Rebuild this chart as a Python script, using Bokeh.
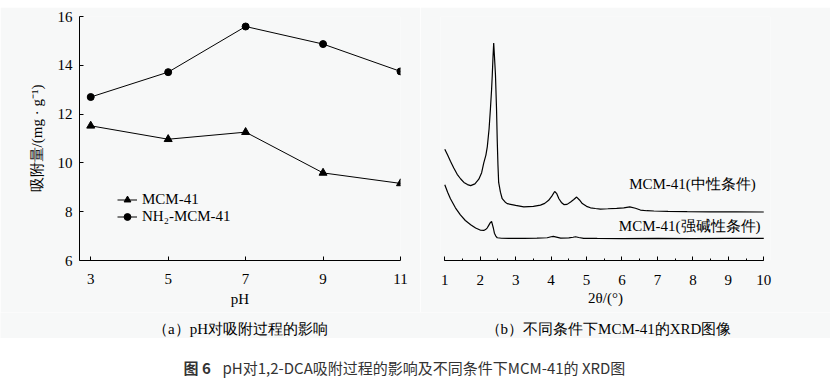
from bokeh.plotting import figure
from bokeh.models import (Range1d, FixedTicker, SingleIntervalTicker, Label, Legend)
from bokeh.layouts import column, row
from bokeh.embed import file_html
from bokeh.resources import INLINE

# ---------------- data ----------------
ph = [3, 5, 7, 9, 11]
mcm41 = [11.52, 10.97, 11.26, 9.59, 9.16]
nh2_mcm41 = [12.70, 13.72, 15.59, 14.87, 13.75]
ph_ticks = [3, 5, 7, 9, 11]
ads_ticks = [6, 8, 10, 12, 14, 16]

neutral_2theta = [1.00, 1.08, 1.16, 1.25, 1.35, 1.45, 1.54, 1.64, 1.73, 1.85, 1.96, 2.04, 2.10, 2.16,
                  2.20, 2.25, 2.29, 2.32, 2.34, 2.36, 2.38, 2.40, 2.43, 2.46, 2.48, 2.50, 2.52, 2.57,
                  2.62, 2.70, 2.76, 3.00, 3.23, 3.50, 3.70, 3.82, 3.93, 4.02, 4.10, 4.16, 4.22, 4.29,
                  4.36, 4.45, 4.55, 4.64, 4.72, 4.80, 4.88, 5.00, 5.11, 5.25, 5.39, 5.60, 5.85, 6.05,
                  6.22, 6.38, 6.52, 6.70, 6.90, 7.30, 7.84, 8.50, 9.20, 10.0]
neutral_int = [114, 108, 101.7, 95, 88.3, 83.5, 80, 77.8, 76.7, 78.5, 83.3, 90, 100, 108,
               116.7, 135, 156.7, 175, 190, 208, 222.7, 210, 190, 155, 123, 98, 80, 70,
               63.3, 60, 58.3, 56.5, 55, 55.5, 56.7, 58.5, 61.7, 66, 70.7, 68.5, 63.3, 59.5,
               57.3, 57.5, 60, 62.5, 65, 62, 58.3, 55.5, 54, 53.3, 52.7, 53, 53.5, 54,
               55, 53.5, 51.7, 51, 50.7, 50.3, 50, 49.9, 49.8, 49.7]

alk_2theta = [1.00, 1.08, 1.16, 1.30, 1.44, 1.58, 1.73, 1.87, 2.01, 2.10, 2.15, 2.20, 2.24, 2.28,
              2.32, 2.35, 2.37, 2.40, 2.44, 2.48, 2.60, 2.80, 3.23, 3.60, 3.89, 4.00, 4.06, 4.15,
              4.27, 4.50, 4.62, 4.69, 4.78, 4.92, 5.30, 6.00, 7.00, 8.00, 9.00, 10.0]
alk_int = [77.7, 70, 63.3, 54, 46.7, 41, 36.7, 33.3, 31, 30.8, 31.7, 33.5, 36, 38.5,
           40, 36, 33.3, 28, 25, 23.3, 22.8, 22.6, 22.7, 23, 23.3, 24.3, 24.7, 24,
           23, 23.2, 23.8, 24.3, 23.6, 22.7, 22.6, 22.5, 22.6, 22.5, 22.6, 22.7]

BG = "#f7f8f8"
RULE = "#e1e7e7"
SERIF = "Liberation Serif"
SANS = "Noto Sans CJK SC"


def blank(w, h, color):
    f = figure(width=w, height=h, output_backend="svg", toolbar_location=None,
               x_range=Range1d(0, 1), y_range=Range1d(0, 1))
    f.min_border = 0
    f.axis.visible = False
    f.grid.visible = False
    f.outline_line_color = None
    f.background_fill_color = color
    f.border_fill_color = color
    return f


# ---------------- panel (a) ----------------
p1 = figure(width=420, height=305, output_backend="svg", toolbar_location=None,
            x_range=Range1d(2.71, 11.0), y_range=Range1d(6, 16))
p1.min_border_left = 79
p1.min_border_right = 20
p1.min_border_top = 9
p1.min_border_bottom = 50
p1.background_fill_color = BG
p1.border_fill_color = BG
p1.outline_line_color = None
p1.grid.visible = False

for ax in (p1.xaxis[0], p1.yaxis[0]):
    ax.axis_line_color = "black"
    ax.major_tick_line_color = "black"
    ax.major_tick_in = 4
    ax.major_tick_out = 0
    ax.minor_tick_line_color = None
    ax.major_label_text_font = SERIF
    ax.major_label_text_font_size = "15px"
    ax.major_label_text_color = "black"
    ax.axis_label_text_font = SERIF
    ax.axis_label_text_font_size = "15px"
    ax.axis_label_text_font_style = "normal"
    ax.axis_label_text_color = "black"

p1.xaxis.ticker = FixedTicker(ticks=ph_ticks)
p1.yaxis.ticker = FixedTicker(ticks=ads_ticks)
p1.xaxis.axis_label = "pH"
p1.xaxis.major_label_standoff = 13
p1.xaxis.axis_label_standoff = 4
p1.yaxis.axis_label = "吸附量/(mg · g⁻¹)"
p1.yaxis.major_label_standoff = 7
p1.yaxis.axis_label_standoff = 10

r1l = p1.line(ph, mcm41, line_color="black", line_width=1)
r1s = p1.scatter(ph, mcm41, marker="triangle", size=8, fill_color="black", line_color="black")
r2l = p1.line(ph, nh2_mcm41, line_color="black", line_width=1)
r2s = p1.scatter(ph, nh2_mcm41, marker="circle", size=7, fill_color="black", line_color="black")

legend = Legend(items=[("MCM-41", [r1l, r1s]), ("NH₂-MCM-41", [r2l, r2s])],
                location=(38, 35))
legend.background_fill_alpha = 0
legend.border_line_color = None
legend.padding = 0
legend.margin = 0
legend.spacing = 0
legend.glyph_width = 20
legend.glyph_height = 17
legend.label_height = 17
legend.label_standoff = 5
legend.label_text_font = SERIF
legend.label_text_font_size = "15px"
legend.label_text_color = "black"
p1.add_layout(legend, "center")

# ---------------- panel (b) ----------------
p2 = figure(width=410, height=305, output_backend="svg", toolbar_location=None,
            x_range=Range1d(0.879, 10.19), y_range=Range1d(0, 250))
p2.min_border_left = 20
p2.min_border_right = 60
p2.min_border_top = 3
p2.min_border_bottom = 52
p2.background_fill_color = BG
p2.border_fill_color = BG
p2.outline_line_color = None
p2.grid.visible = False
p2.yaxis.visible = False

ax2 = p2.xaxis[0]
ax2.bounds = (1, 10)
ax2.ticker = SingleIntervalTicker(interval=1, num_minor_ticks=2)
ax2.axis_line_color = "black"
ax2.major_tick_line_color = "black"
ax2.major_tick_in = 4
ax2.major_tick_out = 0
ax2.minor_tick_line_color = "black"
ax2.minor_tick_in = 2
ax2.minor_tick_out = 0
ax2.major_label_text_font = SERIF
ax2.major_label_text_font_size = "15px"
ax2.major_label_text_color = "black"
ax2.major_label_standoff = 14
ax2.axis_label = "2θ/(°)"
ax2.axis_label_text_font = SERIF
ax2.axis_label_text_font_size = "15px"
ax2.axis_label_text_font_style = "normal"
ax2.axis_label_text_color = "black"
ax2.axis_label_standoff = 2

p2.line(neutral_2theta, neutral_int, line_color="black", line_width=1.2)
p2.line(alk_2theta, alk_int, line_color="black", line_width=1.2)

p2.add_layout(Label(x=7.99, y=78, text="MCM-41(中性条件)", text_font=SERIF,
                    text_font_size="15px", text_align="center", text_baseline="middle",
                    text_color="black"))
p2.add_layout(Label(x=7.91, y=35, text="MCM-41(强碱性条件)", text_font=SERIF,
                    text_font_size="15px", text_align="center", text_baseline="middle",
                    text_color="black"))

# ---------------- sub-captions row ----------------
pc = blank(830, 26, BG)
pc.add_layout(Label(x=240, y=10, x_units="screen", y_units="screen",
                    text="（a）pH对吸附过程的影响", text_font=SERIF, text_font_size="15px",
                    text_align="center", text_baseline="middle", text_color="black"))
pc.add_layout(Label(x=608, y=10, x_units="screen", y_units="screen",
                    text="（b）不同条件下MCM-41的XRD图像", text_font=SERIF, text_font_size="15px",
                    text_align="center", text_baseline="middle", text_color="black"))

# ---------------- figure caption ----------------
p3 = blank(830, 39, "white")
p3.add_layout(Label(x=183, y=11, x_units="screen", y_units="screen", text="图 6",
                    text_font=SANS, text_font_size="15px", text_font_style="bold",
                    text_align="left", text_baseline="middle", text_color="#333333"))
p3.add_layout(Label(x=222, y=11, x_units="screen", y_units="screen",
                    text="pH对1,2-DCA吸附过程的影响及不同条件下MCM-41的 XRD图",
                    text_font=SANS, text_font_size="15px",
                    text_align="left", text_baseline="middle", text_color="#333333"))

top_gap = blank(830, 6, "white")
rule1 = blank(830, 1, RULE)
rule2 = blank(830, 1, RULE)

layout = column(top_gap, rule1, row(p1, p2, spacing=0), pc, rule2, p3, spacing=0)
open("out.html", "w").write(file_html(layout, INLINE))
